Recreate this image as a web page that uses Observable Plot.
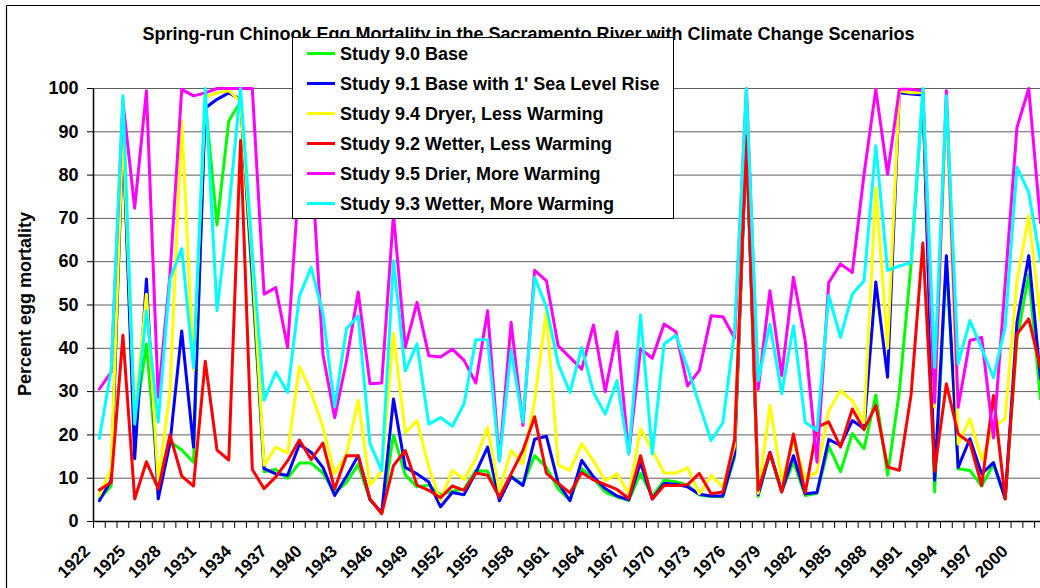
<!DOCTYPE html>
<html>
<head>
<meta charset="utf-8">
<script src="https://cdn.jsdelivr.net/npm/d3@7"></script>
<script src="https://cdn.jsdelivr.net/npm/@observablehq/plot@0.6"></script>
<style>
  html, body { margin: 0; padding: 0; background: #fff; overflow: hidden; }
  #chart { position: relative; width: 1040px; height: 588px; }
</style>
</head>
<body>
<div id="chart"></div>
<script>
const years = d3.range(1922, 2003);

const study90 = [5.2,8.2,89,22,41,9.5,18.4,16.5,13.7,97,68.5,92.5,97,55,11.5,12,10,13.5,13.5,11.2,6.7,9,13.2,5,2,20,10.8,8,8.4,6.2,7,7.5,11.8,11.6,5.5,10.5,8.5,15.2,12.5,7.5,4.9,12.2,9.9,6.8,5.7,4.9,11.1,5.8,9.5,9.2,8.4,6.1,5.8,5.7,14.9,88,5.8,15.7,6.8,13.8,6,6.5,17.4,11.5,20.3,16.8,29.2,10.7,30,59.5,99,6.8,60,12.2,11.8,8.2,13.2,5.2,42,57,28.3];
const study91 = [4.8,9.5,90,14.5,56,5.2,18,44,17.2,95.5,97.5,99,97.5,57,12.2,11,10.7,17.8,16,12.5,6,10.4,15.2,5.1,2,28.3,12.5,11,9.1,3.4,6.7,6.2,11.3,17.2,4.8,10.3,8.3,19,19.7,8.9,4.8,14.1,10.3,7.6,5.9,5,13.6,5.2,8.8,8.6,8,6.3,5.9,5.9,15.6,89,6.2,16,7,15.2,6.4,6.7,19,17.5,23.3,21.5,55.3,33.3,99,98.7,98.5,9.5,61.4,12.5,19.1,11,13.6,5.3,46,61.4,33];
const study94 = [6,12.2,91,24,52.5,9.3,30,92.5,35,98,99,99.5,97,60,13,17.2,15.8,35.8,29.8,21.8,11,15.6,28,8.4,11.7,43.5,20.5,23.3,12.6,4.8,11.8,9.7,14.5,21.8,7,16.4,13.3,28,48.7,13,11.8,18,14,9.4,11,6.4,21.4,16.5,11.2,11.2,12.4,6.4,10.6,8,17.5,92,6.5,26.8,9.5,18.5,10,11.4,25.6,30.2,27.9,22.9,77,40,99.5,99,99,26.4,97,17.9,23.7,14.2,21.8,23.7,55.6,70.6,46.4];
const study92 = [7.3,9,43,5.2,13.8,7.5,20,10.5,8.2,37,16.5,14.2,88,12,7.6,10.3,14,18.8,14.3,18.1,7.5,15.2,15.2,5.2,1.8,12.9,16.4,8.4,7.2,5.5,8.2,7.2,11.2,10.7,5.6,11,16.4,24.2,11.1,8.8,6.6,11.3,9.6,8.5,7.4,5.3,15.2,5.2,8.3,8.3,8.5,11.1,6.4,6.8,18.9,89,7.2,15.9,6.8,20.2,6.6,21.8,23,17.2,26,21.2,26.8,12.6,11.8,29.3,64.3,11.6,31.8,20.2,18.2,8.3,29.1,5.2,43.3,46.8,35.5];
const study95 = [30.6,34.5,97,72.4,99.5,28.7,57,99.8,98.3,99,100,100,100,100,52.5,54,40.2,80,85,38.7,24,37,53,31.8,32,71,40.2,50.6,38.3,38,39.8,37.2,32,48.7,14,46,22.2,58,55.6,40.6,37.9,35.2,45.4,30,43.8,15.6,39.9,37.7,45.6,43.8,31.3,34.9,47.5,47.3,42.4,100,30.5,53.3,33.7,56.4,41.8,13.7,55.2,59.5,57.5,80.2,99.8,80.2,99.8,99.8,99.5,27.5,99.5,26.4,41.8,42.5,19.3,55,91,100,69];
const study93 = [19.2,35,98.3,22.5,48.6,23,56,63,35.5,100,48.7,72,100,62,28,34.5,29.8,52,58.7,48,26.5,44.5,47.5,18,11.8,60.2,34.8,41,22.5,24,22,27.2,42,42,14,39.5,23,56.4,49.5,36.4,29.8,40.2,29.8,24.8,32.5,15.6,47.7,15.6,41,43,35.5,27,18.7,22.8,44,100,32.5,45.6,29.5,45.2,22.9,21,52.2,42.5,52.5,55.6,86.8,58,59,59.8,100,35.6,98.3,36.4,46.4,40,33.2,45,81.8,76,60];

const seriesNames = ["Study 9.0 Base", "Study 9.1 Base with 1' Sea Level Rise", "Study 9.4 Dryer, Less Warming", "Study 9.2 Wetter, Less Warming", "Study 9.5 Drier, More Warming", "Study 9.3 Wetter, More Warming"];
const seriesColors = ["#00ff00", "#0000ff", "#ffff00", "#ff0000", "#ff00ff", "#00ffff"];
const seriesValues = [study90, study91, study94, study92, study95, study93];

const yTicks = d3.range(0, 101, 10);
const xLabelYears = d3.range(1922, 2001, 3);
const xBounds = d3.range(1921.5, 2002, 1);

const titleText = "Spring-run Chinook Egg Mortality in the Sacramento River with Climate Change Scenarios";
const yLabelText = "Percent egg mortality";

const rows = seriesValues.map(vals => years.map((yr, i) => ({year: yr, value: vals[i]})));

const font = "'Liberation Sans', Arial, sans-serif";

const chart = Plot.plot({
  width: 1040,
  height: 588,
  marginLeft: 93,
  marginRight: 0,
  marginTop: 88,
  marginBottom: 67,
  x: {domain: [1921.5, 2002], axis: null},
  y: {domain: [0, 100], axis: null},
  style: {background: "transparent", fontFamily: font, fontWeight: "bold", color: "#000"},
  marks: [
    Plot.ruleY(yTicks.filter(d => d > 0), {stroke: "#5f5f5f", strokeWidth: 1}),
    Plot.axisY({ticks: yTicks, tickSize: 6, tickPadding: 9, fontSize: 18, fontWeight: "bold", label: null, stroke: "#000", fill: "#000"}),
    Plot.axisX({ticks: xBounds, tickSize: 7, tickFormat: () => "", label: null, stroke: "#000"}),
    Plot.ruleX([1921.5], {y1: 0, y2: 100, stroke: "#000", strokeWidth: 1.5}),
    Plot.ruleY([0], {stroke: "#000", strokeWidth: 1.5}),
    ...rows.map((r, i) => Plot.line(r, {x: "year", y: "value", stroke: seriesColors[i], strokeWidth: 3, strokeLinejoin: "round"})),
    Plot.text(xLabelYears, {x: d => d, y: 0, text: d => String(d), rotate: -45, textAnchor: "end", lineAnchor: "middle", dx: -12, dy: 27, fontSize: 17, fontWeight: "bold", fill: "#000"})
  ]
});

document.getElementById("chart").appendChild(chart);

const svg = d3.select(chart);

// outer chart border (top & left visible)
svg.append("line").attr("x1", 6.5).attr("y1", 5.5).attr("x2", 1040).attr("y2", 5.5).attr("stroke", "#000").attr("stroke-width", 1.2);
svg.append("line").attr("x1", 6.5).attr("y1", 5.5).attr("x2", 6.5).attr("y2", 588).attr("stroke", "#000").attr("stroke-width", 1.2);

// title
svg.append("text").attr("x", 528.5).attr("y", 40).attr("text-anchor", "middle")
  .attr("font-size", 18).attr("font-weight", "bold").attr("font-family", font).attr("fill", "#000")
  .text(titleText);

// y-axis title
svg.append("text").attr("transform", "translate(31,304) rotate(-90)").attr("text-anchor", "middle")
  .attr("font-size", 18).attr("font-weight", "bold").attr("font-family", font).attr("fill", "#000")
  .text(yLabelText);

// legend
const lg = svg.append("g");
lg.append("rect").attr("x", 292.5).attr("y", 37.5).attr("width", 381).attr("height", 181)
  .attr("fill", "#fff").attr("stroke", "#000").attr("stroke-width", 1);
seriesNames.forEach((name, i) => {
  const cy = 53.5 + 30 * i;
  lg.append("line").attr("x1", 307).attr("x2", 335).attr("y1", cy).attr("y2", cy)
    .attr("stroke", seriesColors[i]).attr("stroke-width", 3);
  lg.append("text").attr("x", 340).attr("y", cy + 6.4).attr("text-anchor", "start")
    .attr("font-size", 18).attr("font-weight", "bold").attr("font-family", font).attr("fill", "#000")
    .text(name);
});
</script>
</body>
</html>
